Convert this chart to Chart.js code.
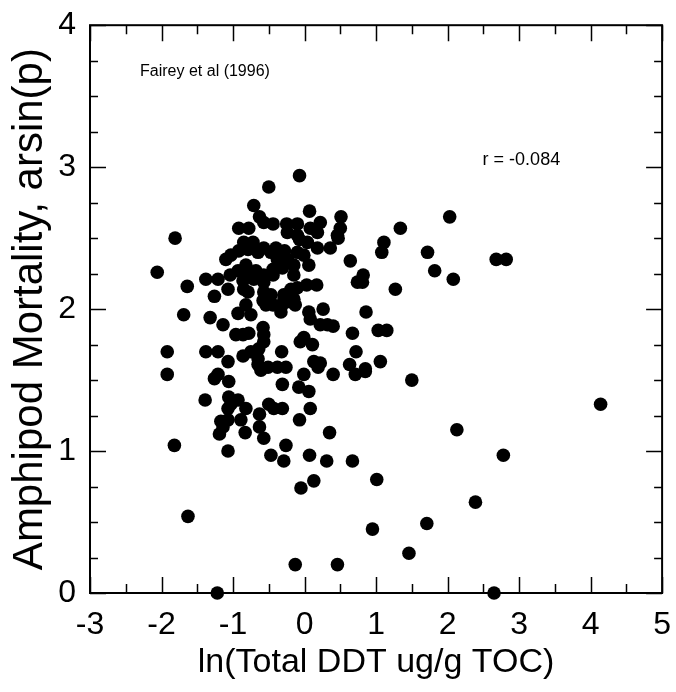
<!DOCTYPE html>
<html>
<head>
<meta charset="utf-8">
<script src="https://cdn.jsdelivr.net/npm/chart.js@4.4.1/dist/chart.umd.min.js"></script>
<style>
  html, body { margin: 0; padding: 0; background: #fff; }
  #wrap { width: 676px; height: 692px; }
</style>
</head>
<body>
<div id="wrap"><canvas id="chart" width="676" height="692"></canvas></div>
<script>
// DATA
const xTicks = [-3, -2, -1, 0, 1, 2, 3, 4, 5];
const yTicks = [0, 1, 2, 3, 4];

const lnDDT = [
  -0.07, -0.50, -0.71, 0.07, 0.51, -0.63, -0.57, -0.44, -0.25, -0.10,
  0.22, 0.08, 0.18, 0.50, 0.46, 0.47, -0.92, -0.78, -0.24, -0.10,
  -0.07, -1.81, 1.11, 1.08, -0.85, -0.72, -0.57, -0.40, -0.28, 0.04,
  0.18, 0.36, -1.10, -1.03, -0.92, -0.79, -0.65, -0.47, -0.38, -0.24,
  -0.10, -0.01, 0.06, -0.15, -0.31, -0.44, -0.57, -0.82, -0.93, -0.79,
  -0.68, -0.15, 0.64, -2.06, -1.38, -1.21, -1.04, -0.86, -0.71, -0.57,
  -0.44, -1.64, -1.07, -0.85, -0.79, -0.57, -0.47, -0.58, -0.44, -0.54,
  -0.29, -0.19, -0.10, 0.03, 0.17, -0.15, -0.29, -0.31, -0.19, -0.13,
  -0.33, -1.26, 0.82, 0.74, 0.81, 0.26, 0.06, 0.08, 0.22, 0.32,
  0.40, 0.86, -1.69, -1.32, -1.14, -0.93, -0.82, -0.75, -0.96, -0.86,
  -0.78, -0.58, -0.57, -0.57, 0.67, 1.03, 1.15, -0.01, -0.06, 0.11,
  -0.64, -0.75, -0.86, -0.65, -0.32, -1.92, -1.38, -1.21, -1.07, -0.65,
  -0.51, -0.38, -0.26, 0.13, 0.22, 0.72, 0.63, 0.85, 1.06,
  -1.92, -0.61, 0.19, -1.21, -1.26, -1.06, -0.31, -0.01, -0.08, 0.06,
  0.40, 0.71, 0.85, -1.39, -1.06, -0.93, -1.03, -1.07, -0.82, -0.50,
  -0.43, -0.31, 0.08, -1.17, -1.07, -1.14, -1.19, -0.89, -0.63, -0.63,
  -0.83, -0.57, -0.07, 0.35, 1.01, 0.13,
  -1.82, -1.07, -0.26, -0.47, -0.29, 0.07, 0.31, 0.67, 2.78, -1.63,
  -0.05, 0.95, 1.71, 2.39, 1.46, -0.13, 0.46, -1.22, 2.65,
  2.03, 1.34, 1.72, 2.68, 2.82, 1.82, 2.08, 1.27, 1.50, 4.14, 2.13
];

const mortality = [
  2.94, 2.86, 2.73, 2.69, 2.65, 2.65, 2.61, 2.60, 2.60, 2.60,
  2.61, 2.57, 2.54, 2.57, 2.52, 2.50, 2.57, 2.57, 2.54, 2.52,
  2.49, 2.50, 2.47, 2.40, 2.47, 2.47, 2.43, 2.43, 2.41, 2.47,
  2.43, 2.43, 2.35, 2.38, 2.41, 2.42, 2.40, 2.40, 2.35, 2.35,
  2.40, 2.38, 2.31, 2.31, 2.29, 2.28, 2.24, 2.31, 2.27, 2.26,
  2.27, 2.24, 2.34, 2.26, 2.21, 2.21, 2.24, 2.20, 2.21, 2.19,
  2.24, 2.16, 2.14, 2.14, 2.12, 2.12, 2.10, 2.06, 2.03, 2.03,
  2.10, 2.14, 2.15, 2.17, 2.17, 2.07, 2.06, 2.03, 2.05, 2.03,
  1.98, 2.09, 2.24, 2.19, 2.19, 2.00, 1.98, 1.93, 1.89, 1.89,
  1.88, 1.98, 1.96, 1.94, 1.89, 1.97, 2.03, 1.96, 1.82, 1.82,
  1.83, 1.87, 1.82, 1.77, 1.83, 1.85, 1.85, 1.80, 1.77, 1.75,
  1.72, 1.70, 1.67, 1.65, 1.70, 1.70, 1.70, 1.70, 1.63, 1.61,
  1.59, 1.59, 1.59, 1.63, 1.62, 1.70, 1.61, 1.58, 1.63,
  1.54, 1.57, 1.59, 1.54, 1.51, 1.49, 1.47, 1.54, 1.45, 1.42,
  1.54, 1.54, 1.56, 1.36, 1.38, 1.36, 1.33, 1.30, 1.30, 1.33,
  1.30, 1.30, 1.30, 1.21, 1.22, 1.17, 1.12, 1.22, 1.26, 1.17,
  1.13, 1.09, 1.22, 1.13, 0.80, 0.79,
  1.04, 1.00, 1.04, 0.97, 0.93, 0.97, 0.93, 0.93, 0.97, 0.54,
  0.74, 0.45, 0.49, 0.64, 0.28, 0.20, 0.20, 0.00, 0.00,
  2.65, 2.57, 2.40, 2.35, 2.35, 2.27, 2.21, 2.14, 1.50, 1.33, 1.15
];

const notes = [
  { text: 'Fairey et al (1996)', x: -2.30, y: 3.67, size: 16 },
  { text: 'r = -0.084', x: 2.49, y: 3.05, size: 18 }
];

const FONT = "'Liberation Sans', Arial, Helvetica, sans-serif";

// inward ticks on all four sides + box frame + text notes
const framePlugin = {
  id: 'frame',
  afterDraw(chart) {
    const { ctx, chartArea: a, scales: { x, y } } = chart;
    ctx.save();
    ctx.strokeStyle = '#000';
    ctx.lineWidth = 1.5;
    ctx.beginPath();
    for (let v = -3; v <= 5.001; v += 0.5) {
      const px = Math.round(x.getPixelForValue(v)) + 0.5;
      const len = Number.isInteger(v) ? 16 : 9;
      ctx.moveTo(px, a.bottom); ctx.lineTo(px, a.bottom - len);
      ctx.moveTo(px, a.top); ctx.lineTo(px, a.top + len);
    }
    for (let v = 0; v <= 4.001; v += 0.25) {
      const py = Math.round(y.getPixelForValue(v)) + 0.5;
      const len = Number.isInteger(v) ? 16 : 8;
      ctx.moveTo(a.left, py); ctx.lineTo(a.left + len, py);
      ctx.moveTo(a.right, py); ctx.lineTo(a.right - len, py);
    }
    ctx.stroke();
    ctx.lineWidth = 2;
    ctx.strokeRect(a.left, a.top, a.right - a.left, a.bottom - a.top);

    ctx.fillStyle = '#000';
    ctx.textBaseline = 'middle';
    ctx.textAlign = 'left';
    notes.forEach(n => {
      ctx.font = n.size + 'px ' + FONT;
      ctx.fillText(n.text, x.getPixelForValue(n.x), y.getPixelForValue(n.y));
    });
    ctx.restore();
  }
};

const points = lnDDT.map((v, i) => ({ x: v, y: mortality[i] }));

new Chart(document.getElementById('chart'), {
  type: 'scatter',
  data: {
    datasets: [{
      data: points,
      backgroundColor: '#000',
      borderColor: '#000',
      borderWidth: 0,
      pointRadius: 6.8,
      clip: false
    }]
  },
  options: {
    responsive: false,
    animation: false,
    events: [],
    layout: { padding: { left: 0, right: 6, top: 22, bottom: 0 } },
    plugins: { legend: { display: false }, tooltip: { enabled: false } },
    scales: {
      x: {
        type: 'linear',
        min: -3, max: 5,
        afterBuildTicks: s => { s.ticks = xTicks.map(v => ({ value: v })); },
        afterFit: s => { s.height = 99; },
        grid: { display: false },
        border: { display: false },
        ticks: { color: '#000', font: { family: FONT, size: 32 }, padding: 5 },
        title: {
          display: true,
          text: 'ln(Total DDT ug/g TOC)',
          color: '#000',
          font: { family: FONT, size: 34 },
          padding: { top: 0, bottom: 9 }
        }
      },
      y: {
        type: 'linear',
        min: 0, max: 4,
        afterBuildTicks: s => { s.ticks = yTicks.map(v => ({ value: v })); },
        afterFit: s => { s.width = 90; },
        grid: { display: false },
        border: { display: false },
        ticks: { color: '#000', font: { family: FONT, size: 32 }, padding: 6 },
        title: {
          display: true,
          text: 'Amphipod Mortality, arsin(p)',
          color: '#000',
          font: { family: FONT, size: 42 },
          padding: { top: 5, bottom: 0 }
        }
      }
    }
  },
  plugins: [framePlugin]
});
</script>
</body>
</html>
